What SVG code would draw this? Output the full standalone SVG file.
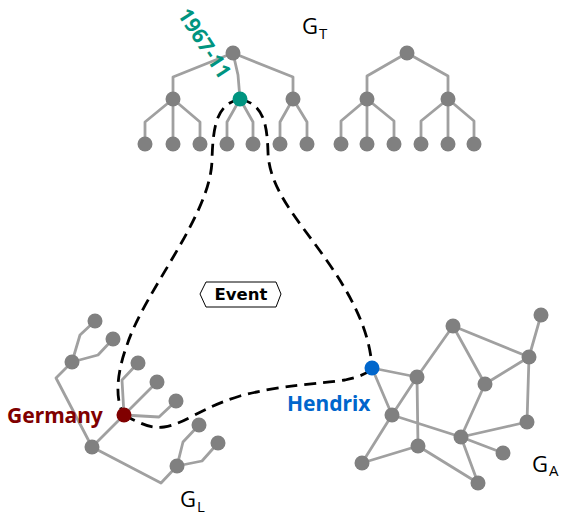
<svg xmlns="http://www.w3.org/2000/svg" width="563" height="516" viewBox="0 0 563 516">
<style>
.e{fill:none;stroke:#a0a0a0;stroke-width:2.8;stroke-linejoin:round}
.n{fill:#808080}
.d{fill:none;stroke:#000;stroke-width:2.8;stroke-dasharray:12,7}
.lb{font-family:"Noto Sans","DejaVu Sans",sans-serif;font-weight:bold;font-size:21px}
.g{font-family:"Open Sans","Noto Sans",sans-serif;font-size:22px;fill:#000}
.s{font-size:15px}
</style>
<rect width="563" height="516" fill="#fff"/>
<g id="tree-T1">
<path class="e" d="M233,53 L173,77 L173,99 M233,53 L238,75 L240,99 M233,53 L293,77 L293,99 M173,99 L145,122 L145,144 M173,99 L173,144 M173,99 L200,122 L200,144 M240,99 L227,122 L227,144 M240,99 L253,122 L253,144 M293,99 L280,122 L280,144 M293,99 L307,122 L307,144"/>
<circle class="n" cx="233" cy="53" r="7.5"/>
<circle class="n" cx="173" cy="99" r="7.5"/>
<circle class="n" cx="293" cy="99" r="7.5"/>
<circle class="n" cx="145" cy="144" r="7.5"/>
<circle class="n" cx="173" cy="144" r="7.5"/>
<circle class="n" cx="200" cy="144" r="7.5"/>
<circle class="n" cx="227" cy="144" r="7.5"/>
<circle class="n" cx="253" cy="144" r="7.5"/>
<circle class="n" cx="280" cy="144" r="7.5"/>
<circle class="n" cx="307" cy="144" r="7.5"/>
</g>
<g id="tree-T2">
<path class="e" d="M407,53 L367,76 L367,99 M407,53 L448,76 L448,99 M367,99 L341,121 L341,144 M367,99 L367,144 M367,99 L394,121 L394,144 M448,99 L421,121 L421,144 M448,99 L448,144 M448,99 L474,121 L474,144"/>
<circle class="n" cx="407" cy="53" r="7.5"/>
<circle class="n" cx="367" cy="99" r="7.5"/>
<circle class="n" cx="448" cy="99" r="7.5"/>
<circle class="n" cx="341" cy="144" r="7.5"/>
<circle class="n" cx="367" cy="144" r="7.5"/>
<circle class="n" cx="394" cy="144" r="7.5"/>
<circle class="n" cx="421" cy="144" r="7.5"/>
<circle class="n" cx="448" cy="144" r="7.5"/>
<circle class="n" cx="474" cy="144" r="7.5"/>
</g>
<g id="tree-L">
<path class="e" d="M95,321 L80,335 L72,362 M113,339 L98,355 L72,362 L56,378 L92,447 L124,415 M124,415 L122,380 L138,363 M124,415 L157,382 M124,415 L159,417 L176,401 M92,447 L161,483 L177,466 L183,442 L199,425 M177,466 L202,461 L218,443"/>
<circle class="n" cx="95" cy="321" r="7.5"/>
<circle class="n" cx="113" cy="339" r="7.5"/>
<circle class="n" cx="72" cy="362" r="7.5"/>
<circle class="n" cx="92" cy="447" r="7.5"/>
<circle class="n" cx="138" cy="363" r="7.5"/>
<circle class="n" cx="157" cy="382" r="7.5"/>
<circle class="n" cx="176" cy="401" r="7.5"/>
<circle class="n" cx="199" cy="425" r="7.5"/>
<circle class="n" cx="218" cy="443" r="7.5"/>
<circle class="n" cx="177" cy="466" r="7.5"/>
</g>
<g id="graph-A">
<path class="e" d="M372,368 L417,377 M372,368 L392,415 M417,377 L453,326 M417,377 L392,415 M417,377 L418,446 M453,326 L529,357 M453,326 L485,384 M541,315 L529,357 M529,357 L485,384 M529,357 L527,422 M485,384 L461,437 M527,422 L461,437 M392,415 L461,437 M461,437 L503,453 M461,437 L478,483 M392,415 L362,463 M362,463 L418,446 M418,446 L478,483"/>
<circle class="n" cx="417" cy="377" r="7.5"/>
<circle class="n" cx="453" cy="326" r="7.5"/>
<circle class="n" cx="541" cy="315" r="7.5"/>
<circle class="n" cx="529" cy="357" r="7.5"/>
<circle class="n" cx="485" cy="384" r="7.5"/>
<circle class="n" cx="392" cy="415" r="7.5"/>
<circle class="n" cx="527" cy="422" r="7.5"/>
<circle class="n" cx="461" cy="437" r="7.5"/>
<circle class="n" cx="418" cy="446" r="7.5"/>
<circle class="n" cx="503" cy="453" r="7.5"/>
<circle class="n" cx="362" cy="463" r="7.5"/>
<circle class="n" cx="478" cy="483" r="7.5"/>
</g>
<g id="connectors">
<path class="d" d="M240,99 C218,104 213,122 212,160 C211,215 145,290 127,345 C116,375 115,400 124,415"/>
<path class="d" d="M124,415 C140,423 150,429 164,427 C185,424 200,408 240,396 C280,385 320,384 345,380 C360,377 368,373 372,368"/>
<path class="d" d="M240,99 C262,104 267,120 268,152 C269,190 300,222 325,258 C350,293 370,330 372,368"/>
</g>
<g id="event">
<polygon points="200,294 206,282 276,282 281,294 276,307 206,307" fill="#fff" stroke="#000" stroke-width="1"/>
<text x="241" y="300" text-anchor="middle" font-family="DejaVu Sans, sans-serif" font-weight="bold" font-size="16.5">Event</text>
</g>
<g id="node-1967-11">
<circle cx="240" cy="99" r="7.5" fill="#009480"/>
<text class="lb" fill="#009480" transform="translate(182,11) rotate(57)" x="0" y="6">1967-11</text>
</g>
<g id="node-Germany">
<circle cx="124" cy="415" r="7.5" fill="#800000"/>
<text class="lb" fill="#800000" x="7" y="423">Germany</text>
</g>
<g id="node-Hendrix">
<circle cx="372" cy="368" r="7.5" fill="#0066cc"/>
<text class="lb" fill="#0066cc" x="287" y="411">Hendrix</text>
</g>
<text class="g" x="302" y="34">G<tspan class="s" dx="1" dy="5">T</tspan></text>
<text class="g" x="180" y="507">G<tspan class="s" dx="1" dy="5">L</tspan></text>
<text class="g" x="532" y="472">G<tspan class="s" dx="1" dy="4">A</tspan></text>
</svg>
